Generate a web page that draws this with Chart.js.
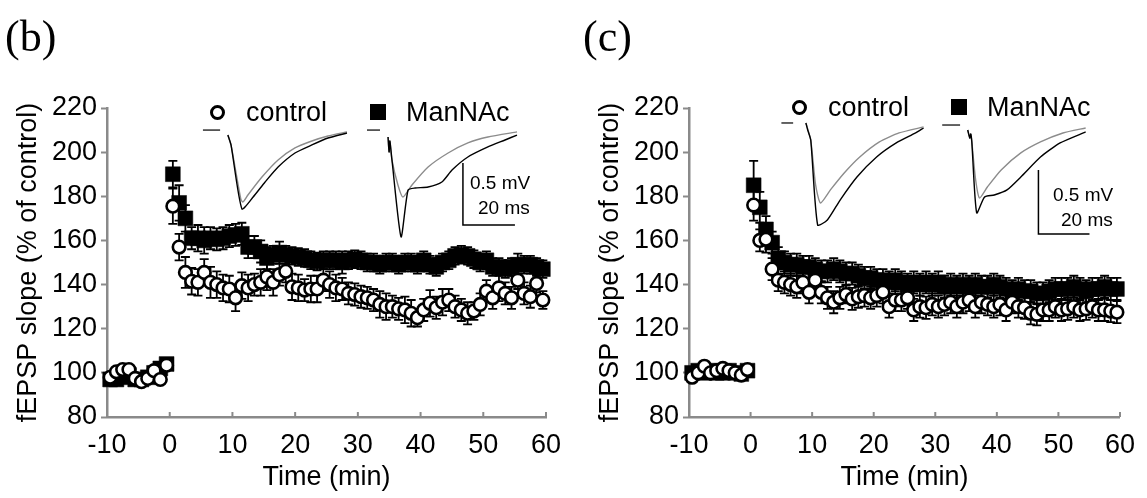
<!DOCTYPE html>
<html>
<head>
<meta charset="utf-8">
<script src="https://cdn.jsdelivr.net/npm/chart.js@4.4.1/dist/chart.umd.min.js"></script>
<style>
  html, body { margin: 0; padding: 0; background: #fff; }
  body { width: 1147px; height: 498px; position: relative; overflow: hidden; font-family: "Liberation Sans", Arial, sans-serif; }
  .panel { position: absolute; top: 0; height: 498px; }
  .txt { position: absolute; white-space: nowrap; color: #000; z-index: 2; }
  .lbl { font-family: "Liberation Serif", "Times New Roman", serif; font-size: 44px; line-height: 50px; }
  .leg { font-size: 27px; line-height: 30px; }
  .bar { font-size: 19px; line-height: 22px; }
  .circ { position: absolute; width: 15px; height: 15px; box-sizing: border-box; border: 3.5px solid #000; border-radius: 50%; background: #fff; z-index: 2; }
  .sq { position: absolute; width: 16px; height: 16px; background: #000; z-index: 2; }
</style>
</head>
<body>

<div class="panel" style="left:0; width:575px;"><canvas id="chartB"></canvas></div>
<div class="panel" style="left:582px; width:565px;"><canvas id="chartC"></canvas></div>

<!-- panel labels -->
<div class="txt lbl" style="left:5px; top:12px;">(b)</div>
<div class="txt lbl" style="left:583px; top:12px;">(c)</div>

<!-- legends -->
<div class="circ" style="left:210px; top:105px;"></div>
<div class="txt leg" style="left:246px; top:97px;">control</div>
<div class="sq" style="left:370px; top:104px;"></div>
<div class="txt leg" style="left:406px; top:97px;">ManNAc</div>

<div class="circ" style="left:792px; top:100px;"></div>
<div class="txt leg" style="left:828px; top:92px;">control</div>
<div class="sq" style="left:951px; top:99px;"></div>
<div class="txt leg" style="left:987px; top:92px;">ManNAc</div>

<!-- scale bar labels -->
<div class="txt bar" style="left:470px; top:172px;">0.5 mV</div>
<div class="txt bar" style="left:478px; top:197px;">20 ms</div>
<div class="txt bar" style="left:1053px; top:184px;">0.5 mV</div>
<div class="txt bar" style="left:1061px; top:209px;">20 ms</div>

<script>
// time points (min)
const times = [-9.5, -8.5, -7.5, -6.5, -5.5, -4.5, -3.5, -2.5, -1.5, -0.5,
  0.5, 1.5, 2.5, 3.5, 4.5, 5.5, 6.5, 7.5, 8.5, 9.5,
  10.5, 11.5, 12.5, 13.5, 14.5, 15.5, 16.5, 17.5, 18.5, 19.5,
  20.5, 21.5, 22.5, 23.5, 24.5, 25.5, 26.5, 27.5, 28.5, 29.5,
  30.5, 31.5, 32.5, 33.5, 34.5, 35.5, 36.5, 37.5, 38.5, 39.5,
  40.5, 41.5, 42.5, 43.5, 44.5, 45.5, 46.5, 47.5, 48.5, 49.5,
  50.5, 51.5, 52.5, 53.5, 54.5, 55.5, 56.5, 57.5, 58.5, 59.5];

const xTicks = [-10, 0, 10, 20, 30, 40, 50, 60];
const yTicks = [80, 100, 120, 140, 160, 180, 200, 220];

// panel (b)
const controlB = [98, 100.5, 101.5, 101.5, 97.5, 96, 97.5, 101, 97, 103.5,
  175.5, 157, 145.5, 141.5, 141, 145.5, 141, 140, 138.5, 138,
  134, 139.5, 138.5, 140, 141, 143.5, 141, 144.5, 146, 139,
  138.5, 137.5, 138, 138, 142, 140, 138.5, 138, 136, 135.5,
  134.5, 134, 133, 131, 130, 130, 129, 128.5, 127, 125,
  128.5, 131.5, 129.5, 132, 133, 130, 128.5, 127, 128, 131,
  137, 134, 138.5, 136, 134, 142, 136, 134.5, 140.5, 133];
const controlBErr = [2, 2, 2, 2, 2, 2, 2, 2, 2, 2,
  8, 6, 7, 6, 6, 6, 7, 6, 6, 6,
  6, 6, 6, 5, 6, 6, 6, 5, 5, 6,
  6, 5, 6, 6, 5, 6, 6, 5, 5, 5,
  5, 5, 5, 6, 6, 5, 5, 6, 6, 4,
  5, 6, 5, 6, 5, 5, 5, 5, 4, 5,
  5, 5, 6, 5, 5, 4, 5, 5, 4, 4];
const mannacB = [97, 97, 98, 99, 97, 97, 98, 100, 102, 104,
  190, 177, 170, 161, 161, 160, 161, 160.5, 161, 162,
  162.5, 163, 157, 157, 155, 152, 153.5, 154.5, 153.5, 153,
  152.5, 152, 151, 150.5, 151, 151, 151, 150, 151, 151.5,
  151, 150, 150, 149, 150, 150, 149, 150, 150, 149,
  151, 149, 148, 150, 151, 153, 153.5, 153, 151.5, 150,
  151, 148, 148, 147, 148, 149, 149, 149, 148, 147];
const mannacBErr = [2, 2, 2, 2, 2, 2, 2, 2, 2, 2,
  6, 8, 6, 5, 6, 6, 5, 5, 5, 5,
  5, 5, 5, 5, 5, 5, 4, 5, 4, 4,
  4, 4, 4, 4, 4, 4, 4, 5, 4, 4,
  4, 4, 4, 4, 4, 4, 4, 4, 4, 4,
  4, 4, 4, 4, 4, 4, 4, 4, 4, 4,
  4, 4, 4, 4, 4, 5, 4, 4, 4, 4];

// panel (c)
const controlC = [98, 100, 103, 100, 101, 102, 101, 100, 99, 101.5,
  176, 160, 160.5, 147, 142, 141, 140, 139, 141, 136.5,
  142, 136.5, 134, 132, 134, 135.5, 133.5, 134.5, 135, 134,
  135, 136.5, 130, 133, 133, 134, 128.5, 130, 129.5, 131,
  130, 131, 132, 130, 132, 133, 130, 132, 131, 130,
  131, 128.5, 132, 130, 129.5, 127, 126.5, 128.5, 128.5, 130,
  128.5, 129, 130, 128.5, 129, 130, 128.5, 128.5, 128, 127.5];
const controlCErr = [2, 2, 2, 2, 2, 2, 2, 2, 2, 2,
  7, 5, 6, 5, 5, 5, 5, 5, 5, 5,
  5, 5, 5, 5, 5, 4, 5, 5, 5, 5,
  5, 5, 5, 5, 5, 5, 5, 5, 5, 5,
  5, 5, 5, 5, 5, 5, 5, 5, 5, 5,
  5, 5, 5, 5, 5, 5, 5, 5, 5, 5,
  5, 5, 5, 5, 5, 5, 5, 5, 5, 5];
const mannacC = [100, 101, 100, 101, 100, 100, 101, 100, 99.5, 101,
  185, 175, 165, 159, 152, 150, 149, 149, 148, 148,
  147, 146, 146, 147, 146, 145, 145, 144, 143, 143,
  142, 142, 141, 142, 141, 140, 141, 140, 141, 140,
  141, 139, 140, 139, 140, 139, 140, 139, 139, 140,
  139, 138, 137, 138, 137, 137, 136, 136, 137, 138,
  138, 138, 139, 138, 137, 138, 138, 139, 138, 138];
const mannacCErr = [2, 2, 2, 2, 2, 2, 2, 2, 2, 2,
  11, 7, 6, 5, 5, 5, 5, 5, 5, 5,
  5, 5, 5, 5, 5, 5, 5, 5, 5, 5,
  5, 5, 5, 5, 5, 5, 5, 5, 5, 5,
  5, 5, 5, 5, 5, 5, 5, 5, 5, 5,
  5, 5, 5, 5, 5, 5, 5, 5, 5, 5,
  5, 5, 5, 5, 5, 5, 5, 5, 5, 5];

// example traces, [ms, mV]
const traceB = {
  stubs: [[[36.9, 0.03], [43.5, 0.03]],
          [[100, 0.03], [105, 0.03]]],
  black: [[[46.5, -0.01], [47.7, -0.09], [51.9, -0.606], [56.2, -0.51], [60.8, -0.389], [65.8, -0.268],
           [72.3, -0.155], [78.8, -0.09], [85, -0.034], [92.3, 0.006]],
          [[108.1, -0.026], [108.5, -0.147], [108.8, -0.058], [109.6, -0.211], [113.1, -0.832], [115.8, -0.453],
           [118.5, -0.437], [123.5, -0.429], [128.8, -0.389], [132.7, -0.292], [138.8, -0.187], [146.5, -0.106],
           [153.1, -0.05], [157.7, -0.01]]],
  gray:  [[[46.5, -0.01], [47.7, -0.09], [51.5, -0.53], [52.3, -0.55], [54.2, -0.494], [59.6, -0.349],
           [65.8, -0.211], [72.3, -0.114], [78.8, -0.058], [85, -0.018], [92.3, 0.015]],
          [[108.1, -0.026], [108.5, -0.147], [108.8, -0.058], [109.6, -0.211], [111.9, -0.413], [113.8, -0.51],
           [117.3, -0.413], [123.5, -0.268], [131.2, -0.155], [138.8, -0.074], [146.5, -0.026], [157.7, 0.015]]],
  scale: [[136.9, -0.235], [136.9, -0.735], [156.9, -0.735]]
};
const traceC = {
  stubs: [[[36.2, 0.043], [40.8, 0.043]],
          [[99.2, 0.027], [106.2, 0.027]]],
  black: [[[45.8, 0.043], [46.5, -0.012], [47.7, -0.09], [50.4, -0.754], [54.2, -0.715], [59.2, -0.559],
           [65.8, -0.379], [73.5, -0.223], [81.2, -0.113], [88.8, -0.035], [91.9, 0.004]],
          [[109.2, -0.012], [110, -0.074], [110.4, -0.043], [110.8, -0.105], [112.7, -0.66], [115.8, -0.535],
           [119.6, -0.52], [124.6, -0.48], [130, -0.379], [137.7, -0.223], [145.4, -0.113], [155.4, -0.027]]],
  gray:  [[[45.8, 0.043], [47.7, -0.09], [49.6, -0.441], [51.5, -0.582], [55.4, -0.48], [60.8, -0.348],
           [66.9, -0.223], [74.6, -0.105], [82.3, -0.035], [91.9, 0.012]],
          [[109.2, -0.012], [110, -0.074], [110.4, -0.043], [110.8, -0.105], [112.3, -0.402], [113.8, -0.543],
           [116.9, -0.457], [122.3, -0.324], [130, -0.191], [137.7, -0.105], [146.5, -0.035], [155.4, 0.004]]],
  scale: [[136.9, -0.324], [136.9, -0.824], [156.9, -0.824]]
};

Chart.defaults.font.family = '"Liberation Sans", Arial, sans-serif';
Chart.defaults.font.size = 27;
Chart.defaults.color = '#000';

const AXIS_GREY = '#8a8a8a';

// SEM bars, drawn under the markers
const errorBars = {
  id: 'errorBars',
  beforeDatasetsDraw(chart) {
    const { ctx } = chart;
    const xs = chart.scales.x, ys = chart.scales.y;
    ctx.save();
    ctx.strokeStyle = '#000';
    ctx.lineWidth = 1.8;
    chart.data.datasets.forEach(ds => {
      if (!ds.errors) return;
      ds.data.forEach((p, i) => {
        const e = ds.errors[i];
        const px = xs.getPixelForValue(p.x);
        const top = ys.getPixelForValue(p.y + e);
        const bot = ys.getPixelForValue(p.y - e);
        ctx.beginPath();
        ctx.moveTo(px, top); ctx.lineTo(px, bot);
        ctx.moveTo(px - 4.5, top); ctx.lineTo(px + 4.5, top);
        ctx.moveTo(px - 4.5, bot); ctx.lineTo(px + 4.5, bot);
        ctx.stroke();
      });
    });
    ctx.restore();
  }
};

// x ticks point into the plot
const innerTicks = {
  id: 'innerTicks',
  afterDraw(chart) {
    const { ctx } = chart;
    const xs = chart.scales.x;
    const y0 = chart.chartArea.bottom;
    ctx.save();
    ctx.strokeStyle = AXIS_GREY;
    ctx.lineWidth = 2;
    xTicks.slice(1).forEach(v => {
      const px = xs.getPixelForValue(v);
      ctx.beginPath();
      ctx.moveTo(px, y0);
      ctx.lineTo(px, y0 - 5);
      ctx.stroke();
    });
    ctx.restore();
  }
};

function traceLine(pairs, color, order, tension) {
  return {
    type: 'line',
    data: pairs.map(([x, y]) => ({ x, y })),
    xAxisID: 'tx', yAxisID: 'ty',
    borderColor: color, borderWidth: 1.4,
    pointRadius: 0, showLine: true, tension: tension,
    order: order, clip: false
  };
}

function makePanel(id, control, controlErr, mannac, mannacErr, trace, tyMin, tyMax, rightPad) {
  const datasets = [
    {
      label: 'control',
      data: times.map((t, i) => ({ x: t, y: control[i] })),
      errors: controlErr,
      pointStyle: 'circle', pointRadius: 6.3, pointHoverRadius: 6.3,
      pointBorderWidth: 2.6, pointBackgroundColor: '#fff', pointBorderColor: '#000',
      backgroundColor: '#fff', borderColor: '#000',
      order: 0, clip: false
    },
    {
      label: 'ManNAc',
      data: times.map((t, i) => ({ x: t, y: mannac[i] })),
      errors: mannacErr,
      pointStyle: 'rect', pointRadius: 10.5, pointHoverRadius: 10.5,
      pointBorderWidth: 0.5, pointBackgroundColor: '#000', pointBorderColor: '#000',
      backgroundColor: '#000', borderColor: '#000',
      order: 1, clip: false
    }
  ];
  trace.stubs.forEach(s => datasets.push(traceLine(s, '#222', 2, 0)));
  trace.black.forEach(s => datasets.push(traceLine(s, '#000', 2, 0.2)));
  trace.gray.forEach(s => datasets.push(traceLine(s, '#8c8c8c', 3, 0.2)));
  datasets.push(Object.assign(traceLine(trace.scale, '#000', 2, 0), { borderWidth: 1.5 }));

  return new Chart(document.getElementById(id), {
    type: 'scatter',
    data: { datasets },
    options: {
      responsive: true,
      maintainAspectRatio: false,
      animation: false,
      layout: { padding: { top: 108, right: rightPad, left: 0, bottom: 0 } },
      plugins: { legend: { display: false }, tooltip: { enabled: false } },
      scales: {
        x: {
          type: 'linear', min: -10, max: 60,
          afterBuildTicks: s => { s.ticks = xTicks.map(v => ({ value: v })); },
          afterFit: s => { s.height = 81; },
          grid: { display: true, drawOnChartArea: false, drawTicks: false, color: AXIS_GREY },
          border: { color: AXIS_GREY, width: 2.5 },
          ticks: { padding: 12, maxRotation: 0, autoSkip: false, color: '#000' },
          title: { display: true, text: 'Time (min)', padding: { top: 0, bottom: 4 }, color: '#000' }
        },
        y: {
          type: 'linear', min: 80, max: 220,
          afterBuildTicks: s => { s.ticks = yTicks.map(v => ({ value: v })); },
          afterFit: s => { s.width = 107; },
          grid: { display: true, drawOnChartArea: false, drawTicks: true, tickLength: 6, tickWidth: 2, color: AXIS_GREY },
          border: { color: AXIS_GREY, width: 2.5 },
          ticks: { padding: 4, color: '#000' },
          title: { display: true, text: 'fEPSP slope (% of control)', padding: { top: 12, bottom: 0 }, color: '#000' }
        },
        tx: { type: 'linear', display: false, position: 'bottom', min: 0, max: 168.85 },
        ty: { type: 'linear', display: false, position: 'left', min: tyMin, max: tyMax }
      }
    },
    plugins: [errorBars, innerTicks]
  });
}

makePanel('chartB', controlB, controlBErr, mannacB, mannacBErr, traceB, -2.284, 0.208, 29);
makePanel('chartC', controlC, controlCErr, mannacC, mannacCErr, traceC, -2.254, 0.16, 19);
</script>
</body>
</html>
